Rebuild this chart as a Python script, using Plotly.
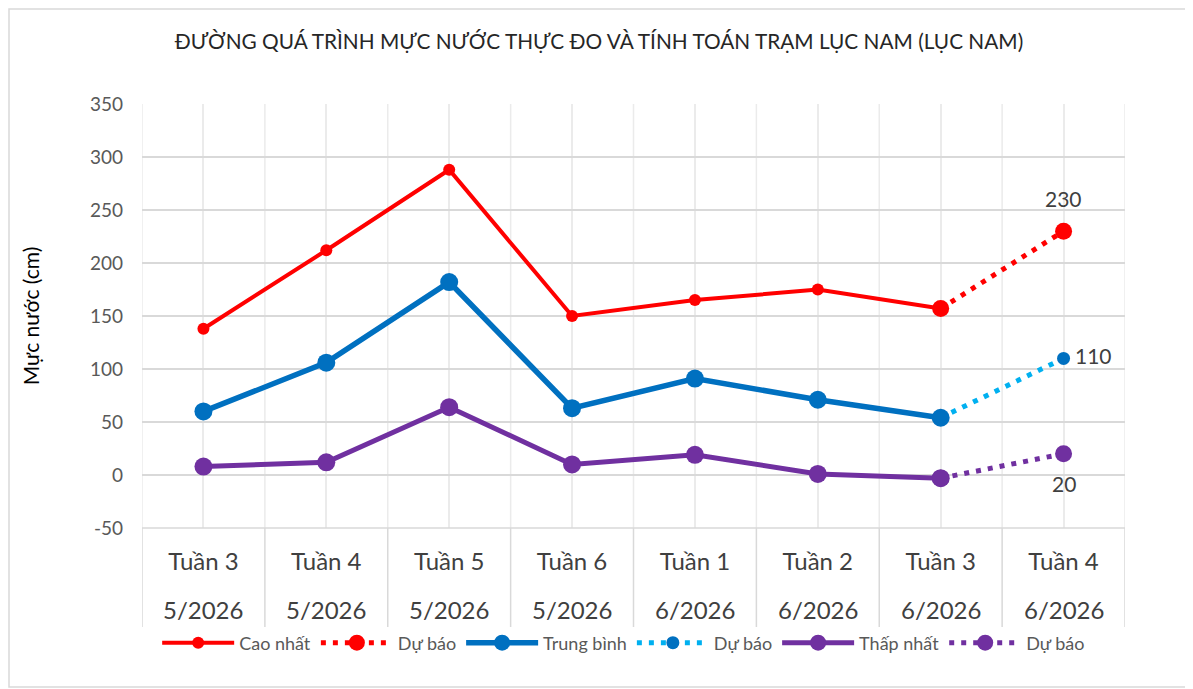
import plotly.graph_objects as go

weeks = ["Tuần 3", "Tuần 4", "Tuần 5", "Tuần 6", "Tuần 1", "Tuần 2", "Tuần 3", "Tuần 4"]
months = ["5/2026", "5/2026", "5/2026", "5/2026", "6/2026", "6/2026", "6/2026", "6/2026"]

cao_nhat = [138, 212, 288, 150, 165, 175, 157, None]
cao_nhat_du_bao = [None, None, None, None, None, None, 157, 230]
trung_binh = [60, 106, 182, 63, 91, 71, 54, None]
trung_binh_du_bao = [None, None, None, None, None, None, 54, 110]
thap_nhat = [8, 12, 64, 10, 19, 1, -3, None]
thap_nhat_du_bao = [None, None, None, None, None, None, -3, 20]

y_ticks = [-50, 0, 50, 100, 150, 200, 250, 300, 350]
y_tick_labels = ["-50", "0", "50", "100", "150", "200", "250", "300", "350"]

FONT = "Lato"
RED = "#FF0000"
BLUE = "#0070C0"
LBLUE = "#00B0F0"
PURPLE = "#7030A0"

W, H = 1185, 681          # page has an 8px body margin
L, R, T, B = 134, 68, 96, 161
PW, PH = W - L - R, H - T - B

x = list(range(len(weeks)))

fig = go.Figure()

fig.add_trace(go.Scatter(x=x, y=cao_nhat, name="Cao nhất", mode="lines+markers",
                         line=dict(color=RED, width=4), marker=dict(color=RED, size=12)))
fig.add_trace(go.Scatter(x=x, y=cao_nhat_du_bao, name="Dự báo", mode="lines+markers",
                         line=dict(color=RED, width=5, dash="5px,7px"),
                         marker=dict(color=RED, size=17)))
fig.add_trace(go.Scatter(x=x, y=trung_binh, name="Trung bình", mode="lines+markers",
                         line=dict(color=BLUE, width=5.5), marker=dict(color=BLUE, size=18)))
fig.add_trace(go.Scatter(x=x, y=trung_binh_du_bao, name="Dự báo", mode="lines+markers",
                         line=dict(color=LBLUE, width=5, dash="5px,7px"),
                         marker=dict(color=BLUE, size=13)))
fig.add_trace(go.Scatter(x=x, y=thap_nhat, name="Thấp nhất", mode="lines+markers",
                         line=dict(color=PURPLE, width=5), marker=dict(color=PURPLE, size=18)))
fig.add_trace(go.Scatter(x=x, y=thap_nhat_du_bao, name="Dự báo", mode="lines+markers",
                         line=dict(color=PURPLE, width=5, dash="5px,7px"),
                         marker=dict(color=PURPLE, size=17)))


def px(fx):
    return (fx - L) / PW


def py(fy):
    return (H - B - fy) / PH


# data labels on forecast end points
last = len(weeks) - 1
lab_font = dict(family=FONT, size=21, color="#404040")
fig.add_annotation(x=last, y=cao_nhat_du_bao[last], text=str(cao_nhat_du_bao[last]),
                   showarrow=False, yshift=33, font=lab_font)
fig.add_annotation(x=last, y=trung_binh_du_bao[last], text=str(trung_binh_du_bao[last]),
                   showarrow=False, xshift=30, yshift=3, font=lab_font)
fig.add_annotation(x=last, y=thap_nhat_du_bao[last], text=str(thap_nhat_du_bao[last]),
                   showarrow=False, yshift=-30, font=lab_font)

# second row of category labels (month)
for i, m in enumerate(months):
    fig.add_annotation(x=i, y=py(601), xref="x", yref="paper", text=m, showarrow=False,
                       yanchor="middle", font=dict(family=FONT, size=24, color="#404040"))

shapes = []
# light vertical gridlines at category boundaries
for i in range(len(weeks) + 1):
    shapes.append(dict(type="line", xref="x", yref="paper", x0=i - 0.5, x1=i - 0.5,
                       y0=0, y1=1, line=dict(color="#EBEBEB", width=1.5), layer="below"))
# category table separators below the plot
for i in range(len(weeks) + 1):
    shapes.append(dict(type="line", xref="x", yref="paper", x0=i - 0.5, x1=i - 0.5,
                       y0=py(619), y1=0, line=dict(color="#D9D9D9", width=1.5)))
# bottom border of plot area
shapes.append(dict(type="line", xref="paper", yref="paper", x0=0, x1=1, y0=0, y1=0,
                   line=dict(color="#D9D9D9", width=1.5)))
# chart outer border
shapes.append(dict(type="rect", xref="paper", yref="paper",
                   x0=px(1), x1=px(1181), y0=py(679), y1=py(1),
                   line=dict(color="#D9D9D9", width=1.5)))

fig.update_layout(
    width=W, height=H,
    margin=dict(l=L, r=R, t=T, b=B),
    paper_bgcolor="white", plot_bgcolor="white",
    font=dict(family=FONT, color="#595959"),
    title=dict(text="ĐƯỜNG QUÁ TRÌNH MỰC NƯỚC THỰC ĐO VÀ TÍNH TOÁN TRẠM LỤC NAM (LỤC NAM)",
               x=591 / W, xanchor="center", y=1 - 34 / H, yanchor="middle",
               font=dict(family=FONT, size=20.8, color="#262626")),
    showlegend=True,
    legend=dict(orientation="h", x=0.49, xanchor="center", y=py(635), yanchor="middle",
                font=dict(family=FONT, size=18, color="#595959"), itemwidth=72,
                bgcolor="rgba(0,0,0,0)", traceorder="normal"),
    shapes=shapes,
)

fig.update_xaxes(range=[-0.5, len(weeks) - 0.5], tickmode="array", tickvals=x,
                 ticktext=weeks, showgrid=True, gridcolor="#EBEBEB", gridwidth=1.5,
                 zeroline=False, showline=False, ticks="", ticklabelstandoff=17,
                 tickfont=dict(family=FONT, size=24, color="#404040"))
fig.update_yaxes(range=[-50, 350], tickmode="array", tickvals=y_ticks, ticktext=y_tick_labels,
                 showgrid=True, gridcolor="#D9D9D9", gridwidth=1.5, zeroline=False,
                 showline=False, ticks="", ticklabelstandoff=18,
                 tickfont=dict(family=FONT, size=19, color="#595959"),
                 title=dict(text="Mực nước (cm)", standoff=44,
                            font=dict(family=FONT, size=21, color="#000000")))

fig.write_html("out.html")
